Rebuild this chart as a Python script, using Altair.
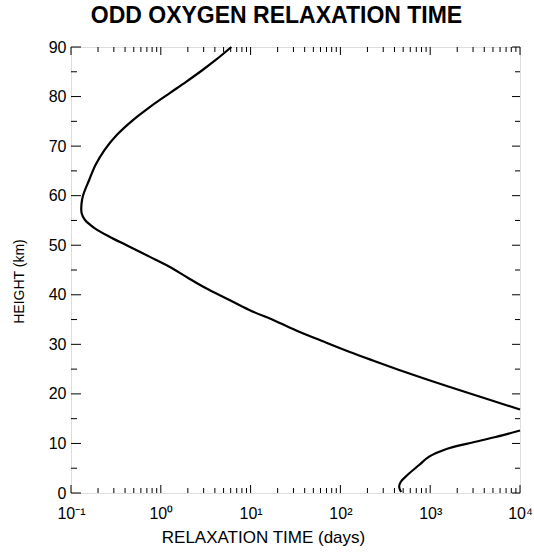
import altair as alt
import pandas as pd

# Upper branch (stratosphere / mesosphere): height (km) vs relaxation time (days)
upper_height = [90.0, 87.38, 85.36, 82.93, 80.71, 77.89, 75.26, 72.24, 69.21,
                66.18, 63.16, 60.13, 58.51, 56.5, 55.09, 53.47, 51.72, 50.04,
                48.37, 47.02, 45.67, 43.5, 41.31, 39.16, 36.93, 34.81, 32.55,
                30.51, 28.51, 26.64, 24.82, 23.1, 21.45, 19.17, 16.85]
upper_time = [6.1, 4.09, 2.92, 1.897, 1.259, 0.754, 0.4895, 0.3231, 0.2359,
              0.1873, 0.1594, 0.1367, 0.1312, 0.1312, 0.1431, 0.1826, 0.268,
              0.411, 0.629, 0.887, 1.246, 1.976, 3.19, 5.51, 9.67, 18.35, 34.8,
              66.0, 125.3, 237.7, 450.8, 855, 1622, 3980, 10000]

# Lower branch (troposphere)
lower_height = [0.2, 1.27, 2.28, 3.63, 5.65, 7.33, 8.82, 10.05, 11.3, 12.61]
lower_time = [474, 451, 471, 557, 753, 973, 1493, 2712, 5370, 10000]

x_tick_values = [0.1, 1, 10, 100, 1000, 10000]
x_tick_labels = ["10⁻¹", "10⁰", "10¹", "10²", "10³", "10⁴"]
x_minor_mult = [2, 3, 4, 5, 6, 7, 8, 9]
y_major_ticks = [0, 10, 20, 30, 40, 50, 60, 70, 80, 90]
y_minor_ticks = [5, 15, 25, 35, 45, 55, 65, 75, 85]

W, H = 449, 446
FONT = "Liberation Sans"

rows = []
for i, (h, t) in enumerate(zip(upper_height, upper_time)):
    rows.append({"branch": "upper", "i": i, "height": h, "time": t})
for i, (h, t) in enumerate(zip(lower_height, lower_time)):
    rows.append({"branch": "lower", "i": i, "height": h, "time": t})
df = pd.DataFrame(rows)

xminor = [m * d for d in x_tick_values[:-1] for m in x_minor_mult]
dx_major = pd.DataFrame({"time": x_tick_values})
dx_minor = pd.DataFrame({"time": xminor})
dy_major = pd.DataFrame({"height": y_major_ticks})
dy_minor = pd.DataFrame({"height": y_minor_ticks})

xscale = alt.Scale(type="log", domain=[0.1, 10000], nice=False)
yscale = alt.Scale(domain=[0, 90], nice=False)

label_map = "{" + ",".join(f"'{v}':'{l}'" for v, l in zip(x_tick_values, x_tick_labels)) + "}"

line = alt.Chart(df).mark_line(
    color="black", strokeWidth=2.2, interpolate="catmull-rom"
).encode(
    x=alt.X("time:Q", scale=xscale, axis=alt.Axis(
        values=x_tick_values, labelExpr=f"{label_map}[''+datum.value]",
        title="RELAXATION TIME (days)", ticks=False, domain=False, grid=False,
        labelFont=FONT, labelFontSize=16, labelColor="black", labelPadding=12,
        labelFlush=False, labelOverlap=False,
        titleFont=FONT, titleFontSize=17, titleFontWeight="normal",
        titleColor="black", titlePadding=8, titleX=192)),
    y=alt.Y("height:Q", scale=yscale, axis=alt.Axis(
        values=y_major_ticks, title="HEIGHT (km)", ticks=False, domain=False,
        grid=False, labelFont=FONT, labelFontSize=16, labelColor="black",
        labelPadding=5, labelFlush=False,
        titleFont=FONT, titleFontSize=14, titleFontWeight="normal",
        titleColor="black", titlePadding=22, titleY=234)),
    detail="branch:N",
    order="i:Q",
)

def xticks(data, length, top):
    if top:
        y0, y1 = 0, length
    else:
        y0, y1 = H, H - length
    return alt.Chart(data).mark_rule(color="black", strokeWidth=1).encode(
        x=alt.X("time:Q", scale=xscale),
        y=alt.value(y0), y2=alt.value(y1))

def yticks(data, length, right):
    if right:
        x0, x1 = W, W - length
    else:
        x0, x1 = 0, length
    return alt.Chart(data).mark_rule(color="black", strokeWidth=1).encode(
        y=alt.Y("height:Q", scale=yscale),
        x=alt.value(x0), x2=alt.value(x1))

chart = alt.layer(
    line,
    xticks(dx_major, 8, False), xticks(dx_minor, 5, False),
    xticks(dx_major, 8, True), xticks(dx_minor, 5, True),
    yticks(dy_major, 10, False), yticks(dy_minor, 6, False),
    yticks(dy_major, 8, True), yticks(dy_minor, 5, True),
).properties(
    width=W, height=H,
    title=alt.TitleParams("ODD OXYGEN RELAXATION TIME", font=FONT, fontSize=23,
                          fontWeight="bold", color="black", dx=-19, offset=11),
    autosize=alt.AutoSizeParams(type="none"),
    padding={"left": 71, "top": 47, "right": 14, "bottom": 64},
).configure_view(stroke="black", strokeWidth=1.3).configure(background="white")

chart.save("out.html", embed_options={"renderer": "svg", "actions": False})
